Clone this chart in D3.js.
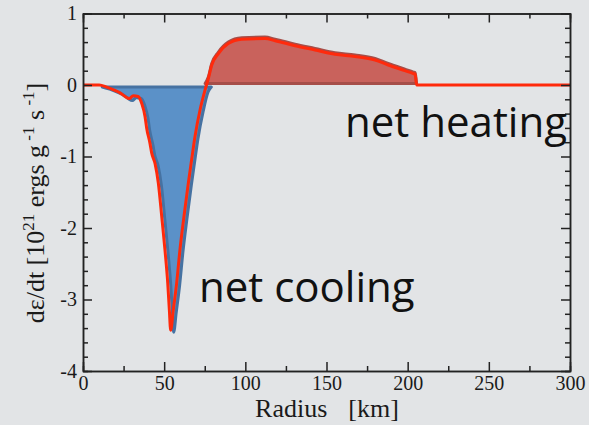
<!DOCTYPE html>
<html>
<head>
<meta charset="utf-8">
<script src="https://cdn.jsdelivr.net/npm/d3@7"></script>
<style>
  body { margin: 0; background: #e2e4e6; }
  svg { display: block; }
  .serif { font-family: "Liberation Serif", "DejaVu Serif", serif; }
  .note { font-family: "Open Sans", Lato, sans-serif; fill: #111; }
</style>
</head>
<body>
<script>
// Plot margins, picked so the frame lands where the original sits.
var margin = { top: 13.5, right: 19, bottom: 54, left: 83 };
var width = 589 - margin.left - margin.right,
  height = 425 - margin.top - margin.bottom;

// Data: radius [km] and net rate de/dt [1e21 ergs/g/s].
var radius = [
  0, 10, 14.6, 20, 22.8, 25.9, 28.5, 31, 34, 36.2, 38.2, 39.2, 41.3, 42.3,
  44.4, 46.4, 48.5, 50.5, 52.2, 53.2, 54, 55.6, 57.7, 59.7, 62.2, 64.9, 66.9,
  69, 72.1, 75.2, 77.2, 79.3, 83.4, 89.5, 97.8, 112.1, 118.3, 130.6, 142.9,
  155.2, 167.6, 179.9, 188, 198.3, 203.5, 204.6, 205.5, 300,
];
var rate = [
  0, 0, -0.03, -0.08, -0.11, -0.16, -0.19, -0.15, -0.16, -0.26, -0.44, -0.6,
  -0.82, -0.95, -1.1, -1.37, -1.84, -2.31, -2.77, -3.15, -3.43, -3.15, -2.77,
  -2.31, -1.84, -1.37, -1.05, -0.72, -0.35, -0.07, 0.09, 0.28, 0.44, 0.58,
  0.64, 0.65, 0.62, 0.55, 0.49, 0.43, 0.4, 0.35, 0.28, 0.2, 0.16, 0.15, 0, 0,
];
var xTicks = [0, 50, 100, 150, 200, 250, 300];
var yTicks = [-4, -3, -2, -1, 0, 1];

var data = radius.map(function (r, i) {
  return { r: r, v: rate[i] };
});

var svg = d3
  .select("body")
  .append("svg")
  .attr("width", width + margin.left + margin.right)
  .attr("height", height + margin.top + margin.bottom);

var g = svg
  .append("g")
  .attr("transform", `translate(${margin.left},${margin.top})`);

var x = d3.scaleLinear().domain([0, 300]).range([0, width]);
var y = d3.scaleLinear().domain([-4, 1]).range([height, 0]);

// Cooling part (blue), drawn a little offset like in the original
var cool = data.filter(function (d) {
  return d.r >= 10 && d.r <= 77.2;
});
g.append("path")
  .datum(cool)
  .attr("transform", "translate(3,2)")
  .attr("fill", "#5b91c8")
  .attr("stroke", "#4672a2")
  .attr("stroke-width", 3)
  .attr("stroke-linejoin", "round")
  .attr(
    "d",
    d3
      .area()
      .curve(d3.curveMonotoneX)
      .x((d) => x(d.r))
      .y0(y(0))
      .y1((d) => y(Math.min(d.v, 0)))
  );

// Heating part (red)
var heat = data.filter(function (d) {
  return d.r >= 75.2 && d.r <= 205.5;
});
g.append("path")
  .datum(heat)
  .attr("transform", "translate(0,-1.5)")
  .attr("fill", "#c9625c")
  .attr("stroke", "#a64e49")
  .attr("stroke-width", 3)
  .attr("stroke-linejoin", "round")
  .attr(
    "d",
    d3
      .area()
      .curve(d3.curveMonotoneX)
      .x((d) => x(d.r))
      .y0(y(0))
      .y1((d) => y(Math.max(d.v, 0)))
  );

// Net curve
g.append("path")
  .datum(data)
  .attr("fill", "none")
  .attr("stroke", "#ff2a0c")
  .attr("stroke-width", 3)
  .attr("stroke-linejoin", "round")
  .attr(
    "d",
    d3
      .line()
      .curve(d3.curveMonotoneX)
      .x((d) => x(d.r))
      .y((d) => y(d.v))
  );

// Axes: major + minor ticks, all pointing inward
var minorX = d3.range(25, 300, 50);
var minorY = d3.range(-4, 1.001, 0.2).filter(function (v) {
  return Math.abs(v - Math.round(v)) > 0.01;
});

function styleAxis(sel) {
  sel.attr("font-family", null).attr("font-size", null).attr("class", "serif");
  sel.select(".domain").attr("stroke", "#222").attr("stroke-width", 1.5);
  sel.selectAll(".tick line").attr("stroke", "#222").attr("stroke-width", 1.5);
  sel.selectAll("text").attr("fill", "#1a1a1a").style("font-size", "20px");
}

g.append("g")
  .attr("transform", `translate(0,${height})`)
  .call(d3.axisBottom(x).tickValues(xTicks).tickSizeInner(-9).tickSizeOuter(0).tickPadding(5))
  .call(styleAxis);
g.append("g")
  .attr("transform", `translate(0,${height})`)
  .call(d3.axisBottom(x).tickValues(minorX).tickSize(-5).tickFormat(""))
  .call(styleAxis);
g.append("g")
  .call(d3.axisTop(x).tickValues(xTicks).tickSizeInner(-9).tickSizeOuter(0).tickFormat(""))
  .call(styleAxis);
g.append("g")
  .call(d3.axisTop(x).tickValues(minorX).tickSize(-5).tickFormat(""))
  .call(styleAxis);

g.append("g")
  .call(d3.axisLeft(y).tickValues(yTicks).tickSizeInner(-9).tickSizeOuter(0).tickPadding(6).tickFormat(d3.format("d")))
  .call(styleAxis);
g.append("g")
  .call(d3.axisLeft(y).tickValues(minorY).tickSize(-5).tickFormat(""))
  .call(styleAxis);
g.append("g")
  .attr("transform", `translate(${width},0)`)
  .call(d3.axisRight(y).tickValues(yTicks).tickSizeInner(-9).tickSizeOuter(0).tickFormat(""))
  .call(styleAxis);
g.append("g")
  .attr("transform", `translate(${width},0)`)
  .call(d3.axisRight(y).tickValues(minorY).tickSize(-5).tickFormat(""))
  .call(styleAxis);

// y labels use a plain hyphen like the original
g.selectAll("text").each(function () {
  var t = d3.select(this);
  t.text(t.text().replace("\u2212", "-"));
});

// Axis titles
svg
  .append("text")
  .attr("class", "serif")
  .attr("x", 327)
  .attr("y", 417)
  .attr("text-anchor", "middle")
  .style("white-space", "pre")
  .style("word-spacing", "4px")
  .style("font-size", "26px")
  .attr("fill", "#1a1a1a")
  .text("Radius  [km]");

var yl = svg
  .append("text")
  .attr("class", "serif")
  .attr("transform", "translate(44,203) rotate(-90)")
  .attr("text-anchor", "middle")
  .style("font-size", "26px")
  .attr("fill", "#1a1a1a");
yl.append("tspan").text("d\u03b5/dt [10");
yl.append("tspan").attr("dy", -10).style("font-size", "17px").text("21");
yl.append("tspan").attr("dy", 10).text(" ergs g");
yl.append("tspan").attr("dy", -10).style("font-size", "17px").text(" -1");
yl.append("tspan").attr("dy", 10).text(" s");
yl.append("tspan").attr("dy", -10).style("font-size", "17px").text(" -1");
yl.append("tspan").attr("dy", 10).text("]");

// Annotations
svg
  .append("text")
  .attr("class", "note")
  .attr("x", 345)
  .attr("y", 137)
  .style("font-size", "42px")
  .text("net heating");
svg
  .append("text")
  .attr("class", "note")
  .attr("x", 199)
  .attr("y", 302)
  .style("font-size", "42px")
  .text("net cooling");
</script>
</body>
</html>
